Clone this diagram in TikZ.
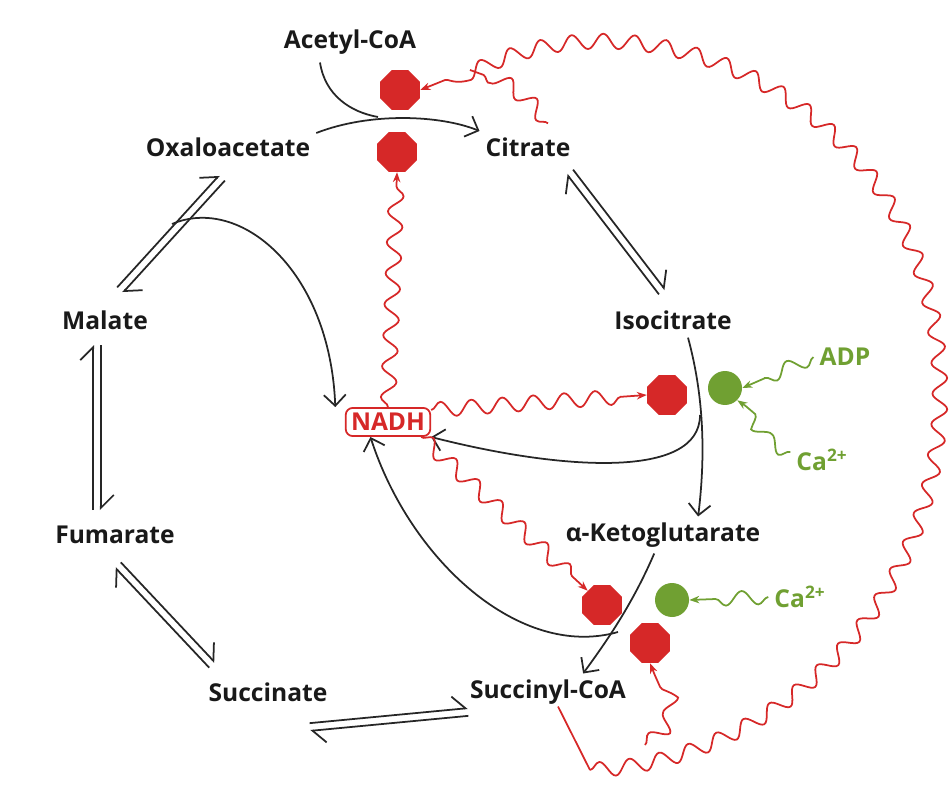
\documentclass[tikz,border=0pt]{standalone}
\usepackage{fontspec}
\setmainfont{Open Sans}
\usetikzlibrary{arrows.meta, calc, decorations.pathmorphing, shapes.geometric}
\definecolor{inhib}{RGB}{214,40,40}
\definecolor{activ}{RGB}{112,160,50}
\tikzset{
  met/.style={font=\bfseries\fontsize{14}{16}\selectfont, text=black!90},
  flow/.style={black!85, line width=1pt, -{Straight Barb[length=2.2mm]}},
  half/.style={black!85, line width=1pt, -{Straight Barb[left, length=2.6mm]}},
  wave/.style={inhib, line width=1pt, decorate, decoration={snake, amplitude=1.5mm, segment length=6.2mm, post length=2.5mm}},
  gwave/.style={activ, line width=1pt, decorate, decoration={snake, amplitude=1.4mm, segment length=6.5mm, post length=2mm}},
  stop/.style={regular polygon, regular polygon sides=8, fill=inhib, minimum size=0.86cm, inner sep=0pt},
  ball/.style={circle, fill=activ, minimum size=0.68cm, inner sep=0pt}
}
% two opposite half arrows between a and b
\newcommand{\eqpair}[2]{%
  \draw [half] ($(#1)!2.2pt!90:(#2)$) -- ($(#2)!2.2pt!-90:(#1)$);
  \draw [half] ($(#2)!2.2pt!90:(#1)$) -- ($(#1)!2.2pt!-90:(#2)$);}
\begin{document}
\begin{tikzpicture}[x=0.02cm, y=-0.02cm]
  \useasboundingbox (0,0) rectangle (949,807);

  \node [met] (acoa) at (350,42) {Acetyl-CoA};
  \node [met] (oxa) at (228,147) {Oxaloacetate};
  \node [met] (cit) at (528,147) {Citrate};
  \node [met] (mal) at (105,320) {Malate};
  \node [met] (iso) at (673,320) {Isocitrate};
  \node [met] (fum) at (115,535) {Fumarate};
  \node [met] (akg) at (663,535) {α-Ketoglutarate};
  \node [met] (suc) at (268,692) {Succinate};
  \node [met] (scoa) at (548,692) {Succinyl-CoA};
  \node [met, text=inhib, draw=inhib, line width=1pt, rounded corners=4pt, inner sep=3pt] (nadh) at (388,422) {NADH};
  \node [met, text=activ] (adp) at (845,357) {ADP};
  \node [met, text=activ] (ca1) at (822,460) {Ca\textsuperscript{2+}};
  \node [met, text=activ] (ca2) at (800,597) {Ca\textsuperscript{2+}};

  \node [stop] (s1) at (400,90) {};
  \node [stop] (s2) at (397,152) {};
  \node [stop] (s3) at (667,395) {};
  \node [stop] (s4) at (602,605) {};
  \node [stop] (s5) at (650,643) {};
  \node [ball] (g1) at (725,388) {};
  \node [ball] (g2) at (672,600) {};

  % reaction arrows
  \coordinate (p1) at (570,172); \coordinate (p2) at (662,292);
  \coordinate (p3) at (120,290); \coordinate (p4) at (222,178);
  \coordinate (p5) at (97,510);  \coordinate (p6) at (97,345);
  \coordinate (p7) at (212,665); \coordinate (p8) at (118,565);
  \coordinate (p9) at (468,712); \coordinate (p10) at (310,727);
  \eqpair{p1}{p2}
  \eqpair{p4}{p3}
  \eqpair{p6}{p5}
  \eqpair{p8}{p7}
  \eqpair{p10}{p9}

  \draw [flow] (oxa.east) ++(0,-14) .. controls (370,112) and (440,115) .. (cit.west |- 0,131);
  \draw [black!85, line width=1pt] (acoa.south) ++(-30,2) .. controls (325,95) and (350,112) .. (378,117);
  \draw [flow] (iso.south) ++(15,2) .. controls (705,400) and (705,460) .. ([xshift=20pt]akg.north);
  \draw [flow] (700,415) .. controls (700,480) and (560,470) .. (nadh.east |- 0,437);
  \draw [flow] ([xshift=-5pt]akg.south) .. controls (630,610) and (600,650) .. ([xshift=20pt]scoa.north);
  \draw [flow] (618,632) .. controls (520,660) and (410,560) .. ([xshift=-10pt]nadh.south);
  \draw [flow] (172,224) .. controls (240,195) and (330,270) .. ([xshift=-30pt]nadh.north);

  % regulation
  \draw [wave, -{Stealth[length=2mm]}] (nadh.north) -- (s2.south);
  \draw [wave, -{Stealth[length=2mm]}] (nadh.east) ++(0,-12) -- (s3.west);
  \draw [wave, -{Stealth[length=2mm]}] (nadh.south east) ++(-10,0) -- (s4.north west);
  \draw [wave, decoration={post length=0mm}] (cit.north) ++(20,-8) .. controls (530,100) and (500,80) .. (470,70);
  \draw [inhib, line width=1pt] (scoa.south) ++(10,-4) -- (590,770);
  \draw [wave, -{Stealth[length=2mm]}] (590,770) .. controls (770,760) and (940,600) .. (932,380) .. controls (925,110) and (650,-20) .. (470,70) -- (s1.east);
  \draw [wave, -{Stealth[length=2mm]}] (645,745) .. controls (680,720) and (660,690) .. (s5.south);

  \draw [gwave, -{Stealth[length=2mm]}] (adp.west) -- (g1.east);
  \draw [gwave, -{Stealth[length=2mm]}] (ca1.west) ++(0,-8) .. controls (760,440) and (770,420) .. (g1.south east);
  \draw [gwave, -{Stealth[length=2mm]}] (ca2.west) -- (g2.east);
\end{tikzpicture}
\end{document}
